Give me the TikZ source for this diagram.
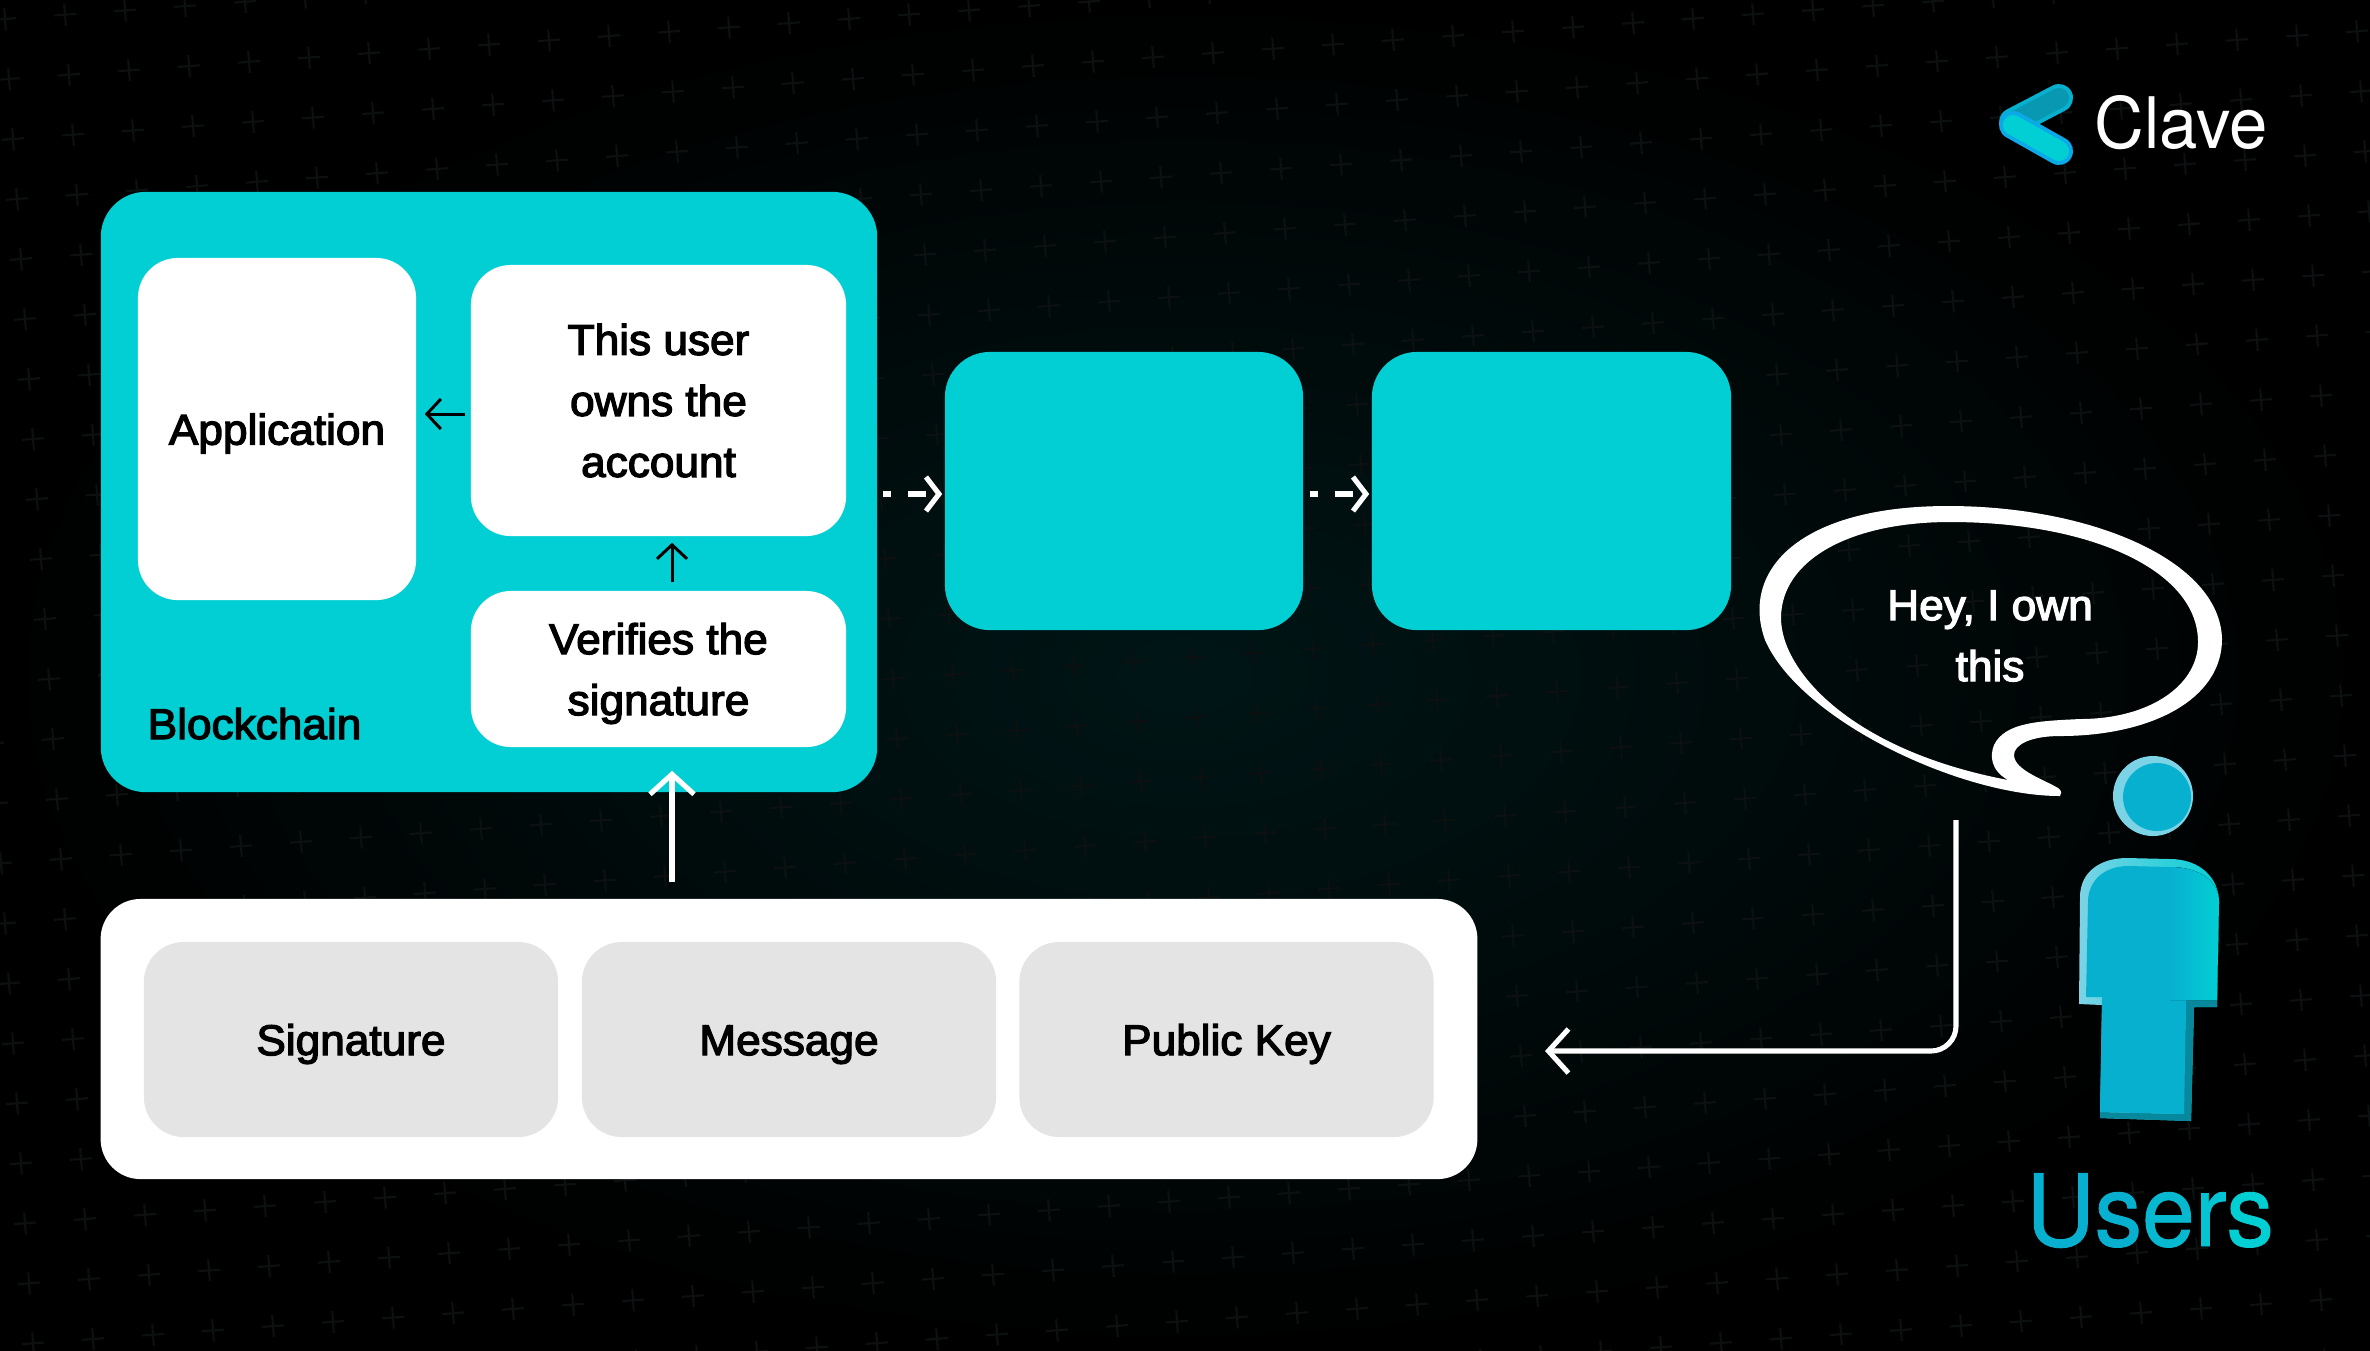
\documentclass[tikz,border=0pt]{standalone}
\usepackage{fontspec}
\usepackage{xcolor}
\usetikzlibrary{arrows.meta,positioning}
\setmainfont{Liberation Sans}
\newfontfamily\bodyfont[FakeBold=3,FakeStretch=1.03]{Liberation Sans}
\newfontfamily\brandfont[FakeStretch=0.97]{TeX Gyre Heros}
\newfontfamily\usersfont[FakeBold=0.9,FakeStretch=0.95]{TeX Gyre Heros}
\newcommand{\droptext}{\rule{0pt}{0.4cm}}
\definecolor{chaincyan}{HTML}{02CFD4}
\definecolor{tilegrey}{HTML}{E4E4E4}
\definecolor{userblue}{HTML}{08B0D0}
\definecolor{userlight}{HTML}{7CD3E6}
\definecolor{userdark}{HTML}{08889C}
\definecolor{crossgrey}{HTML}{0D1010}

\begin{document}
\begin{tikzpicture}[
  x=0.01cm, y=-0.01cm,
  block/.style={fill=chaincyan, rounded corners=0.45cm, inner sep=0pt},
  card/.style={fill=white, rounded corners=0.4cm, inner sep=0pt, align=center, text=black, font=\bodyfont\fontsize{12.2}{17.35}\selectfont},
  tile/.style={card, fill=tilegrey, minimum width=4.14cm, minimum height=1.95cm},
  thin arrow/.style={-{Straight Barb[length=0.14cm,width=0.3cm]}, line width=0.85pt, black},
  flow arrow/.style={-{Straight Barb[length=0.2cm,width=0.44cm]}, line width=1.45pt, white},
  hop arrow/.style={flow arrow, dash pattern=on 2.2pt off 5pt on 5pt off 5pt, -{Straight Barb[length=0.13cm,width=0.34cm]}},
  cross/.style={crossgrey, line width=0.6pt}
]
\useasboundingbox (0,0) rectangle (2370,1350);
\fill[inner color=black!85!chaincyan!70!black, outer color=black] (0,0) rectangle (2370,1350);

% background crosses
\begin{scope}
\clip (0,0) rectangle (2370,1350);
\foreach \i in {-1,...,40}
  \foreach \j in {-1,...,26} {
    \pgfmathsetmacro{\cx}{5+60*\i+4*\j}
    \pgfmathsetmacro{\cy}{19-4.3*\i+60*\j}
    \draw[cross] (\cx-11,\cy+0.8) -- (\cx+11,\cy-0.8) (\cx-0.8,\cy-11) -- (\cx+0.8,\cy+11);
  }
\end{scope}

% blockchain
\node[block, minimum width=7.76cm, minimum height=6cm] (chain) at (489,492) {};
\node[card, minimum width=2.78cm, minimum height=3.42cm] (app) at (277,429) {\droptext Application};
\node[card, minimum width=3.75cm, minimum height=2.71cm] (owns) at (658.5,400.5) {This user\\owns the\\account};
\node[card, minimum width=3.75cm, minimum height=1.56cm] (verify) at (658.5,669) {\droptext Verifies the\\signature};
\node[anchor=base west, inner sep=0pt, font=\bodyfont\fontsize{12.2}{17.35}\selectfont] (chainlabel) at (147,739) {Blockchain};
\node[block, minimum width=3.58cm, minimum height=2.78cm] (midblock) at (1124,491) {};
\node[block, minimum width=3.59cm, minimum height=2.78cm] (farblock) at (1551.5,491) {};

% transaction
\node[card, minimum width=13.76cm, minimum height=2.8cm] (panel) at (789,1039) {};
\node[tile] (signature) at (351,1039.5) {\droptext Signature};
\node[tile] (message) at (789,1039.5) {\droptext Message};
\node[tile] (pubkey) at (1226.5,1039.5) {\droptext Public Key};

\coordinate (feed) at (672,899);
\coordinate (say) at (1956,820);
\coordinate (send) at (1545,1051);

\draw[thin arrow, shorten <=0.05cm, shorten >=0.08cm] ([yshift=-0.135cm]owns.west) -- ([yshift=-0.135cm]owns.west -| app.east);
\draw[thin arrow, shorten <=0.08cm, shorten >=0.06cm] ([xshift=0.135cm]verify.north) -- ([xshift=0.135cm]owns.south);
\draw[flow arrow, shorten <=0.17cm, shorten >=0.23cm] (feed) -- (feed |- verify.south);
\draw[hop arrow, shorten <=0.05cm, shorten >=0.02cm] ([yshift=-0.03cm]chain.east |- midblock.west) -- ([yshift=-0.03cm]midblock.west);
\draw[hop arrow, shorten <=0.06cm, shorten >=0.02cm] ([yshift=-0.03cm]midblock.east) -- ([yshift=-0.03cm]farblock.west);
\draw[flow arrow, rounded corners=0.25cm] (say) |- (send);

% speech bubble
\fill[white, even odd rule]
  (2060,796) .. controls (1960,796) and (1800,720) .. (1765,640)
  .. controls (1740,570) and (1800,506) .. (1948,506)
  .. controls (2090,506) and (2220,560) .. (2222,639)
  .. controls (2222,700) and (2150,736) .. (2060,736)
  .. controls (2030,736) and (2014,745) .. (2014,755)
  .. controls (2014,770) and (2045,780) .. (2058,788)
  .. controls (2062,791) and (2062,794) .. (2060,796) -- cycle
  (2008,780) .. controls (1990,770) and (1990,755) .. (1994,745)
  .. controls (2005,722) and (2040,721) .. (2080,719)
  .. controls (2150,719) and (2198,685) .. (2198,642)
  .. controls (2198,570) and (2090,522) .. (1950,522)
  .. controls (1850,522) and (1781,560) .. (1781,618)
  .. controls (1781,670) and (1850,750) .. (2008,780) -- cycle;
\node[text=white, align=center, inner sep=0pt, font=\bodyfont\fontsize{12.2}{17.35}\selectfont] (claim) at (1990,636) {Hey, I own\\this};

% user figure
\fill[userlight] (2153,796) circle (40);
\fill[userblue] (2157,797) circle (34);
\fill[left color=userlight, right color=chaincyan] (2079,1004) -- (2080,897) .. controls (2080,872) and (2100,858) .. (2127,858) -- (2170,859) .. controls (2200,859) and (2219,878) .. (2219,902) -- (2217,1007) -- (2194,1007) -- (2191,1121) -- (2100,1118) -- (2102,1005) -- cycle;
\fill[userdark] (2217,1000) -- (2217,1007) -- (2194,1007) -- (2191,1121) -- (2100,1118) -- (2100,1112) -- (2183,1114) -- (2186,1000) -- cycle;
\fill[userblue] (2086,997) -- (2088,902) .. controls (2088,880) and (2105,866) .. (2128,866) -- (2170,867) .. controls (2198,867) and (2219,880) .. (2219,902) -- (2217,1000) -- (2186,1000) -- (2184,1114) -- (2100,1112) -- (2102,997) -- cycle;
\fill[left color=userblue, right color=chaincyan] (2170,867) .. controls (2198,867) and (2219,880) .. (2219,902) -- (2217,1000) -- (2170,1000) -- cycle;
\node[anchor=base, inner sep=0pt, font=\usersfont\fontsize{28.4}{30}\selectfont] (users) at (2150,1246) {\textcolor{userblue}{U}\textcolor{userblue}{s}\textcolor{userblue!70!chaincyan}{e}\textcolor{userblue!40!chaincyan}{r}\textcolor{chaincyan}{s}};

% brand
\draw[line width=7.97pt, line cap=round, userblue] (2059,98) -- (2013,122);
\draw[line width=5.7pt, line cap=round, userdark!60!userblue] (2059,98) -- (2013,122);
\draw[line width=7.97pt, line cap=round, cyan!75!chaincyan] (2013,125) -- (2059,151);
\draw[line width=5.7pt, line cap=round, chaincyan] (2013,125) -- (2059,151);
\node[anchor=base west, text=white, inner sep=0pt, font=\brandfont\fontsize{20.2}{22}\selectfont] (brand) at (2094,148) {Clave};
\end{tikzpicture}
\end{document}
